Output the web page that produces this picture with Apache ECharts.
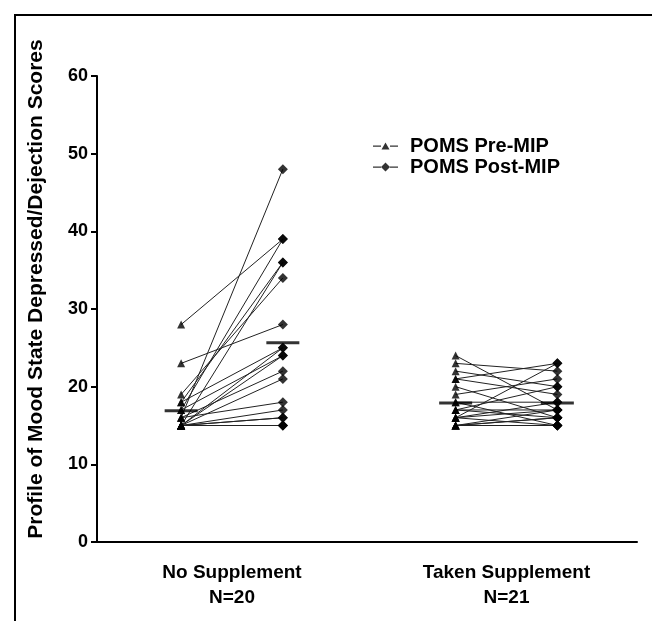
<!DOCTYPE html>
<html>
<head>
<meta charset="utf-8">
<script src="https://cdn.jsdelivr.net/npm/echarts@6/dist/echarts.min.js"></script>
<style>
  html, body { margin: 0; padding: 0; background: #fff; }
  #chart { width: 652px; height: 621px; }
</style>
</head>
<body>
<div id="chart"></div>
<script>
// group labels and where they sit on the x scale
var groupLabels = ["No Supplement\nN=20", "Taken Supplement\nN=21"];
var groupCenters = [3, 9.1];
var preX = [1.87, 7.97];
var postX = [4.13, 10.23];

// POMS scores, paired by subject (pre[i] -> post[i])
var noSuppPre = [28, 23, 19, 18, 18, 17, 17, 16, 16, 16, 15, 15, 15, 15, 15, 15, 15, 15, 15, 15];
var noSuppPost = [39, 28, 34, 36, 25, 39, 24, 48, 22, 18, 36, 25, 24, 21, 17, 16, 16, 15, 15, 15];
var takenPre = [24, 23, 22, 21, 21, 20, 19, 18, 18, 17, 17, 17, 16, 16, 16, 16, 15, 15, 15, 15, 15];
var takenPost = [17, 22, 20, 23, 19, 16, 21, 18, 15, 20, 17, 16, 23, 18, 17, 15, 17, 16, 16, 15, 15];

var yTicks = [0, 10, 20, 30, 40, 50, 60];

var groups = [
  { pre: noSuppPre, post: noSuppPost },
  { pre: takenPre, post: takenPost }
];

function mean(a) {
  var s = 0;
  for (var i = 0; i < a.length; i++) s += a[i];
  return s / a.length;
}

var series = [];
var preData = [], postData = [], meanData = [];

groups.forEach(function (g, gi) {
  for (var i = 0; i < g.pre.length; i++) {
    series.push({
      type: "line",
      data: [[preX[gi], g.pre[i]], [postX[gi], g.post[i]]],
      symbol: "none",
      silent: true,
      lineStyle: { color: "#222", width: 1 },
      z: 2
    });
    preData.push([preX[gi], g.pre[i]]);
    postData.push([postX[gi], g.post[i]]);
  }
  meanData.push([preX[gi], mean(g.pre)]);
  meanData.push([postX[gi], mean(g.post)]);
});

series.push({
  name: "POMS Pre-MIP",
  type: "scatter",
  symbol: "triangle",
  symbolSize: 8,
  itemStyle: { color: "#000" },
  data: preData,
  z: 4
});
series.push({
  name: "POMS Post-MIP",
  type: "scatter",
  symbol: "diamond",
  symbolSize: 10,
  itemStyle: { color: "#000" },
  data: postData,
  z: 4
});
series.push({
  type: "scatter",
  symbol: "rect",
  symbolSize: [33, 3],
  itemStyle: { color: "#000" },
  data: meanData,
  z: 5
});

var myChart = echarts.init(document.getElementById("chart"));
var option = {
  animation: false,
  backgroundColor: "#fff",
  textStyle: { fontFamily: "Liberation Sans", fontWeight: "bold", color: "#000" },
  graphic: [
    {
      type: "rect",
      shape: { x: 15, y: 15, width: 700, height: 700 },
      style: { fill: "none", stroke: "#000", lineWidth: 2 },
      silent: true
    }
  ],
  grid: { left: 97, top: 76, right: 15, bottom: 79, containLabel: false },
  legend: {
    left: 368,
    top: 131,
    orient: "vertical",
    itemGap: 1,
    itemWidth: 25,
    itemHeight: 10,
    textStyle: {
      fontSize: 20, lineHeight: 20, fontWeight: "bold", color: "#000",
      fontFamily: "Liberation Sans", padding: [0, 0, 0, 7]
    },
    data: [
      {
        name: "POMS Pre-MIP",
        icon: "path://M0,4.5L8,4.5L8,5.7L0,5.7Z M8.5,8.5L12.5,1.5L16.5,8.5Z M17,4.5L25,4.5L25,5.7L17,5.7Z"
      },
      {
        name: "POMS Post-MIP",
        icon: "path://M0,4.5L8,4.5L8,5.7L0,5.7Z M12.5,0.5L17,5L12.5,9.5L8,5Z M17,4.5L25,4.5L25,5.7L17,5.7Z"
      }
    ]
  },
  xAxis: {
    type: "value",
    min: 0,
    max: 12,
    splitLine: { show: false },
    axisLine: { onZero: false, lineStyle: { color: "#000", width: 2 } },
    axisTick: { show: false },
    axisLabel: {
      customValues: groupCenters,
      margin: 18,
      fontSize: 19,
      lineHeight: 25,
      fontWeight: "bold",
      color: "#000",
      formatter: function (v) {
        var i = groupCenters.indexOf(v);
        return i >= 0 ? groupLabels[i] : "";
      }
    }
  },
  yAxis: {
    type: "value",
    min: 0,
    max: 60,
    interval: 10,
    name: "Profile of Mood State Depressed/Dejection Scores",
    nameLocation: "middle",
    nameGap: 50,
    nameTextStyle: { fontSize: 21, fontWeight: "bold", color: "#000", padding: [0, 0, 0, 40] },
    splitLine: { show: false },
    axisLine: { show: true, lineStyle: { color: "#000", width: 2 } },
    axisTick: { show: true, length: 6, lineStyle: { color: "#000", width: 2 } },
    axisLabel: {
      fontSize: 18,
      fontWeight: "bold",
      color: "#000",
      margin: 9,
      formatter: function (v) {
        return yTicks.indexOf(v) >= 0 ? String(v) : "";
      }
    }
  },
  series: series
};
option && myChart.setOption(option);
</script>
</body>
</html>
